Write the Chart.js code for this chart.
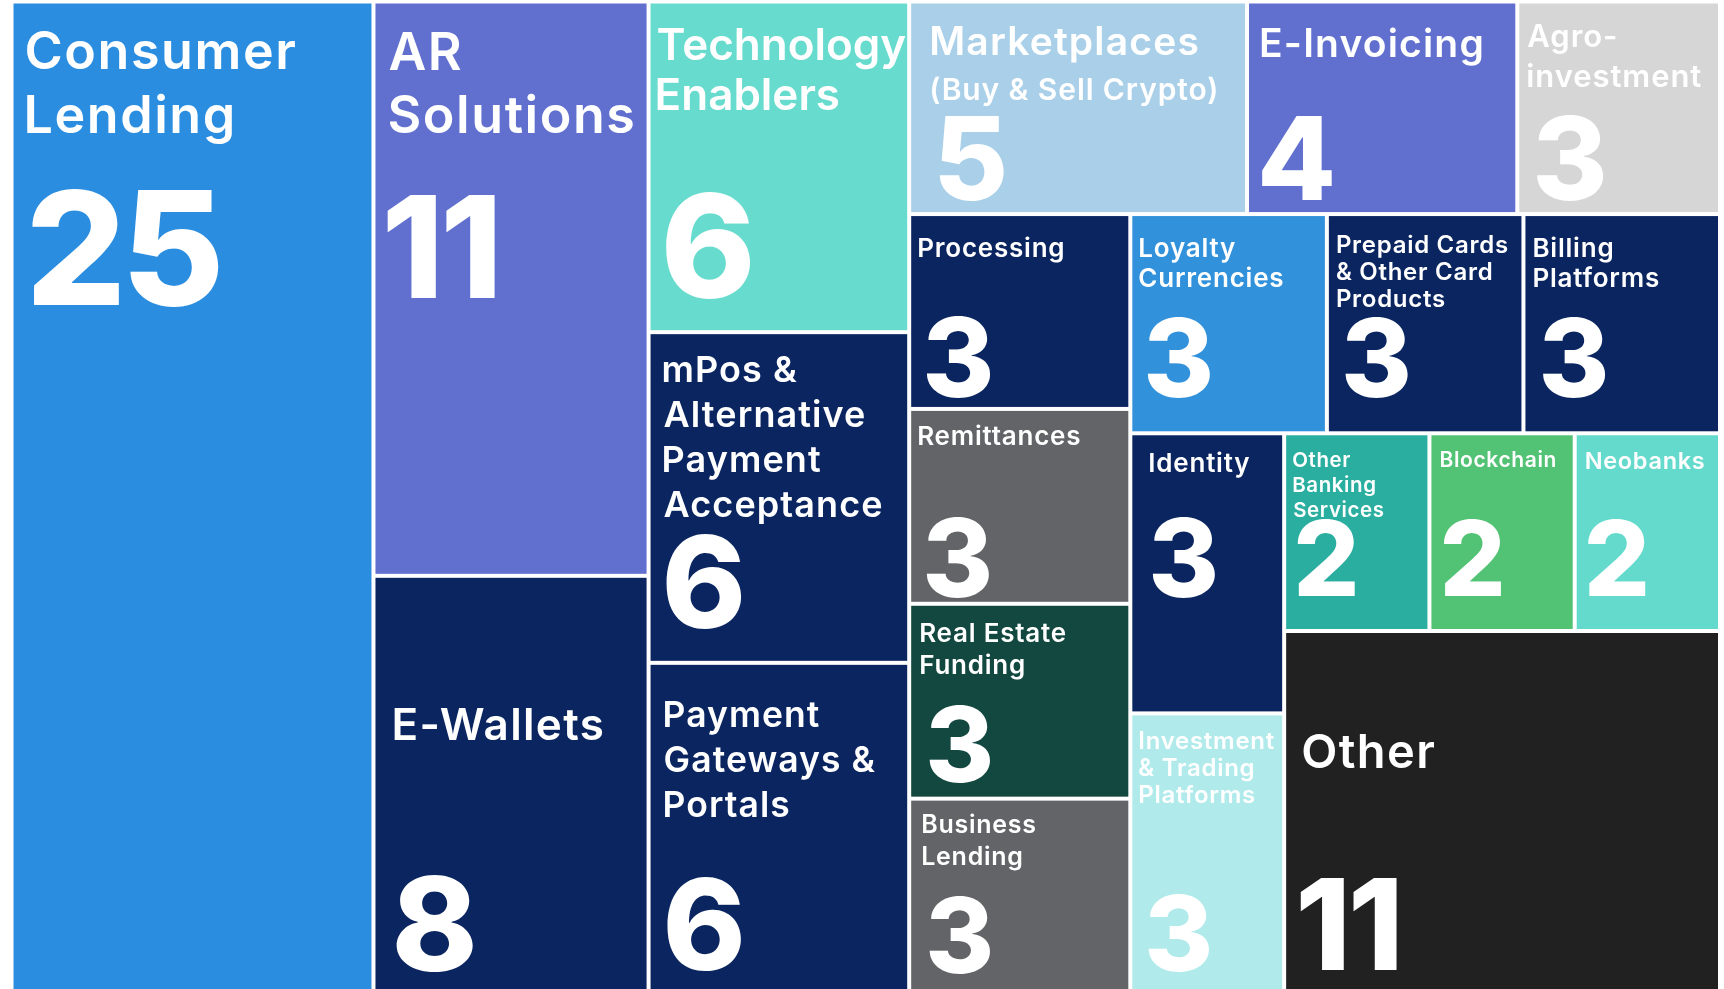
<!DOCTYPE html>
<html>
<head>
<meta charset="utf-8">
<script src="https://cdn.jsdelivr.net/npm/chart.js@4/dist/chart.umd.min.js"></script>
<style>
  html, body { margin: 0; padding: 0; background: #fff; overflow: hidden; }
  canvas { display: block; }
</style>
</head>
<body>
<canvas id="chart" width="1724" height="996" style="width:1724px;height:996px"></canvas>
<script>
// categories (\n = line break in the cell label) and company counts
const categories = [
  'Consumer\nLending', 'AR\nSolutions', 'E-Wallets',
  'Technology\nEnablers', 'mPos &\nAlternative\nPayment\nAcceptance', 'Payment\nGateways &\nPortals',
  'Marketplaces\n(Buy & Sell Crypto)', 'E-Invoicing', 'Agro-\ninvestment',
  'Processing', 'Remittances', 'Real Estate\nFunding', 'Business\nLending',
  'Loyalty\nCurrencies', 'Prepaid Cards\n& Other Card\nProducts', 'Billing\nPlatforms',
  'Identity', 'Investment\n& Trading\nPlatforms',
  'Other\nBanking\nServices', 'Blockchain', 'Neobanks',
  'Other'
];
const counts = [25, 11, 8, 6, 6, 6, 5, 4, 3, 3, 3, 3, 3, 3, 3, 3, 3, 3, 2, 2, 2, 11];
// how many consecutive categories share one strip of the treemap
const strips = [1, 2, 3, 3, 4, 3, 2, 3, 1];

const NAVY = '#0a2560';
const colors = [
  '#2a8de0', '#6170cf', NAVY,
  '#67dbcd', NAVY, NAVY,
  '#aad0e9', '#6170cf', '#d6d6d6',
  NAVY, '#636468', '#124840', '#636468',
  '#3191db', NAVY, NAVY,
  NAVY, '#b0eaea',
  '#2aae9f', '#52c274', '#64dacc',
  '#212121'
];

// text style per cell:
// [label px, label dx, first baseline, line step, number px, number dx, number baseline, 2nd-line px, tracking em]
const textStyle = [
  [52, 13, 65, 64, 158, 19, 301],
  [52, 14, 66, 63, 141, 12, 294],
  [44, 19, 162, 0, 130, 21, 393],
  [44, 7, 56, 50, 144, 15, 294, 0, 0],
  [36, 13, 48, 45, 128, 16, 294],
  [35.5, 14, 62, 45, 126, 17, 305],
  [39, 20, 51, 45, 115, 28, 196, 30],
  [39, 12, 53, 0, 115, 13, 196],
  [31, 8, 43, 40, 115, 17, 196],
  [26, 7, 41, 0, 110, 15, 181],
  [26, 7, 34, 0, 108, 15, 186],
  [26, 9, 36, 32, 105, 18, 176],
  [25, 11, 32, 32, 105, 18, 172],
  [26, 7, 41, 30, 108, 15, 181],
  [24, 8, 37, 27, 108, 16, 181],
  [26, 8, 41, 30, 108, 17, 181],
  [26, 17, 37, 0, 108, 20, 162],
  [24, 7, 34, 27, 105, 16, 256],
  [20.5, 7, 32, 25, 104, 11, 161],
  [21, 9, 32, 0, 104, 12, 161],
  [23.5, 9, 34, 0, 104, 11, 161],
  [47, 17, 135, 0, 126, 14, 337]
];

const GAP = 2; // half of the white gap between cells
const FONT = 'Inter, "Open Sans", "DejaVu Sans", sans-serif';

// slice the box into strips; each strip runs along the shorter side
function layout(values, groups, box, pxRatio) {
  let { x, y, w, h } = box;
  let rest = values.reduce((a, b) => a + b, 0);
  let i = 0;
  const rects = [];
  groups.forEach(n => {
    const part = values.slice(i, i + n);
    const sum = part.reduce((a, b) => a + b, 0);
    if (w * pxRatio >= h) {
      const cw = w * sum / rest;
      let cy = y;
      part.forEach(v => {
        const ch = h * v / sum;
        rects.push({ x: x, y: cy, w: cw, h: ch });
        cy += ch;
      });
      x += cw; w -= cw;
    } else {
      const rh = h * sum / rest;
      let cx = x;
      part.forEach(v => {
        const cw = w * v / sum;
        rects.push({ x: cx, y: y, w: cw, h: rh });
        cx += cw;
      });
      y += rh; h -= rh;
    }
    rest -= sum;
    i += n;
  });
  return rects;
}

function drawLabel(ctx, text, px, track, inkLeft, baseline) {
  ctx.font = '600 ' + px + 'px ' + FONT;
  ctx.letterSpacing = (px * track).toFixed(2) + 'px';
  const m = ctx.measureText(text);
  ctx.fillText(text, inkLeft + m.actualBoundingBoxLeft, baseline);
  ctx.letterSpacing = '0px';
}

// big numbers: digits placed by their ink so "11" stays tight
function drawNumber(ctx, text, px, inkLeft, baseline) {
  ctx.font = '800 ' + px + 'px ' + FONT;
  let x = inkLeft;
  for (const ch of text) {
    const m = ctx.measureText(ch);
    ctx.fillText(ch, x + m.actualBoundingBoxLeft, baseline);
    x += m.actualBoundingBoxLeft + m.actualBoundingBoxRight + px * 0.07;
  }
}

const treemapPlugin = {
  id: 'treemap',
  afterDatasetsDraw(chart) {
    const { ctx, chartArea, scales } = chart;
    const xs = scales.x, ys = scales.y;
    const ratio = chartArea.width / chartArea.height;
    const rects = layout(counts, strips, { x: 0, y: 0, w: 100, h: 100 }, ratio);

    ctx.save();
    rects.forEach((r, k) => {
      const left = xs.getPixelForValue(r.x) + GAP;
      const right = xs.getPixelForValue(r.x + r.w) - GAP;
      const top = ys.getPixelForValue(r.y) + GAP;
      const bottom = ys.getPixelForValue(r.y + r.h) - GAP;
      ctx.fillStyle = colors[k];
      ctx.fillRect(left, top, right - left, bottom - top);

      const s = textStyle[k];
      const track = s[8] === undefined ? 0.03 : s[8];
      ctx.fillStyle = '#ffffff';
      ctx.textAlign = 'left';
      ctx.textBaseline = 'alphabetic';
      const lines = categories[k].split('\n');
      let base = top + s[2];
      lines.forEach((line, j) => {
        const px = (j > 0 && s[7]) ? s[7] : s[0];
        drawLabel(ctx, line, px, track, left + s[1], base);
        base += s[3];
      });
      drawNumber(ctx, String(counts[k]), s[4], left + s[5], top + s[6]);
    });
    ctx.restore();
  }
};

new Chart(document.getElementById('chart'), {
  type: 'scatter',
  data: { datasets: [{ data: [] }] },
  options: {
    responsive: false,
    animation: false,
    layout: { padding: { left: 11.5, top: 1.5, right: 4, bottom: 2.5 } },
    scales: {
      x: { type: 'linear', min: 0, max: 100, display: false },
      y: { type: 'linear', min: 0, max: 100, reverse: true, display: false }
    },
    plugins: { legend: { display: false }, tooltip: { enabled: false } }
  },
  plugins: [treemapPlugin]
});
</script>
</body>
</html>
